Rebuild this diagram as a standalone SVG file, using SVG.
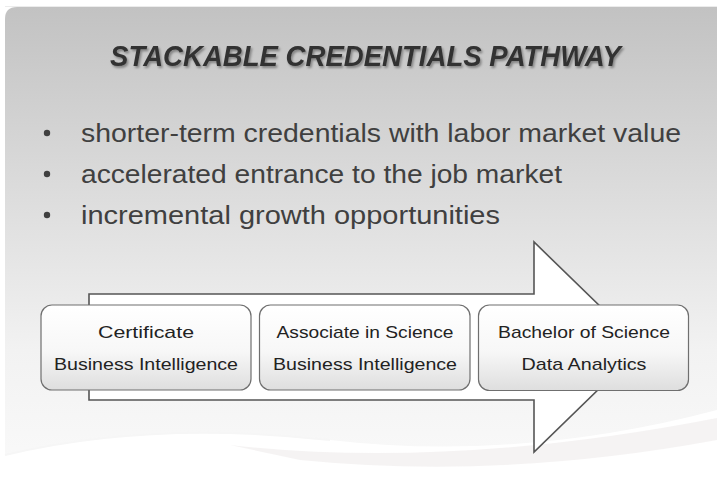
<svg xmlns="http://www.w3.org/2000/svg" width="717" height="497" viewBox="0 0 717 497">
  <defs>
    <linearGradient id="bg" x1="0" y1="0" x2="0" y2="1">
      <stop offset="0" stop-color="#c2c2c2"/>
      <stop offset="0.35" stop-color="#dadada"/>
      <stop offset="0.7" stop-color="#f2f2f2"/>
      <stop offset="1" stop-color="#fbfbfb"/>
    </linearGradient>
    <linearGradient id="boxg" x1="0" y1="0" x2="0" y2="1">
      <stop offset="0" stop-color="#ffffff"/>
      <stop offset="0.55" stop-color="#f7f7f7"/>
      <stop offset="1" stop-color="#dedede"/>
    </linearGradient>
    <filter id="tshadow" x="-5%" y="-30%" width="110%" height="160%">
      <feDropShadow dx="1.5" dy="2" stdDeviation="1.2" flood-color="#000" flood-opacity="0.35"/>
    </filter>
  </defs>
  <style>
    .title { font-family: "Liberation Sans", Arial, sans-serif; font-weight: bold; font-style: italic; font-size: 30px; fill: #333333; }
    .bullet { font-family: "Liberation Sans", Arial, sans-serif; font-size: 25px; fill: #404040; }
    .dot { fill: #404040; }
    .box { fill: url(#boxg); stroke: #6f6f6f; stroke-width: 1.2; }
    .lbl { font-family: "Liberation Sans", Arial, sans-serif; font-size: 17px; fill: #222222; text-anchor: middle; }
    .arrow { fill: #ffffff; stroke: #555555; stroke-width: 1.6; stroke-linejoin: miter; }
  </style>

  <rect x="0" y="0" width="717" height="497" fill="#ffffff"/>
  <!-- slide background -->
  <path d="M5 19 Q5 7 17 7 L717 7 L717 497 L5 497 Z" fill="url(#bg)"/>
  <line x1="5" y1="6.5" x2="717" y2="6.5" stroke="#ececec" stroke-width="1"/>
  <!-- bottom waves -->
  <path d="M5 455 Q150 420 330 440 Q520 462 717 410 L717 497 L5 497 Z" fill="#ffffff"/>
  <path d="M230 445 Q450 470 717 418 L717 440 Q500 480 300 460 Z" fill="#f1eeee" opacity="0.7"/>
  <path d="M5 455 Q150 420 330 440" fill="none" stroke="#f6f6f6" stroke-width="2"/>

  <!-- title -->
  <text class="title" x="110" y="66" textLength="511" lengthAdjust="spacingAndGlyphs" filter="url(#tshadow)">STACKABLE CREDENTIALS PATHWAY</text>

  <!-- bullets -->
  <g id="bullets">
    <circle class="dot" cx="47" cy="133" r="3.2"/>
    <text class="bullet" x="81" y="141.5" textLength="600" lengthAdjust="spacingAndGlyphs">shorter-term credentials with labor market value</text>
    <circle class="dot" cx="47" cy="174" r="3.2"/>
    <text class="bullet" x="81" y="182.5" textLength="481" lengthAdjust="spacingAndGlyphs">accelerated entrance to the job market</text>
    <circle class="dot" cx="47" cy="215" r="3.2"/>
    <text class="bullet" x="81" y="223.5" textLength="419" lengthAdjust="spacingAndGlyphs">incremental growth opportunities</text>
  </g>

  <!-- big arrow -->
  <g id="connectors">
    <path class="arrow" d="M89 294 L534 294 L534 242 L642 347 L534 452 L534 400 L89 400 Z"/>
  </g>

  <g id="node-certificate">
    <rect class="box" x="41" y="305" width="210" height="85" rx="11" ry="11"/>
    <text class="lbl" x="146" y="338" textLength="96" lengthAdjust="spacingAndGlyphs">Certificate</text>
    <text class="lbl" x="146" y="370" textLength="184" lengthAdjust="spacingAndGlyphs">Business Intelligence</text>
  </g>
  <g id="node-associate">
    <rect class="box" x="259.5" y="305" width="210.5" height="85" rx="11" ry="11"/>
    <text class="lbl" x="365" y="338" textLength="177" lengthAdjust="spacingAndGlyphs">Associate in Science</text>
    <text class="lbl" x="365" y="370" textLength="184" lengthAdjust="spacingAndGlyphs">Business Intelligence</text>
  </g>
  <g id="node-bachelor">
    <rect class="box" x="478.5" y="305" width="210" height="85.5" rx="11" ry="11"/>
    <text class="lbl" x="584" y="338" textLength="172" lengthAdjust="spacingAndGlyphs">Bachelor of Science</text>
    <text class="lbl" x="584" y="370" textLength="125" lengthAdjust="spacingAndGlyphs">Data Analytics</text>
  </g>
</svg>
